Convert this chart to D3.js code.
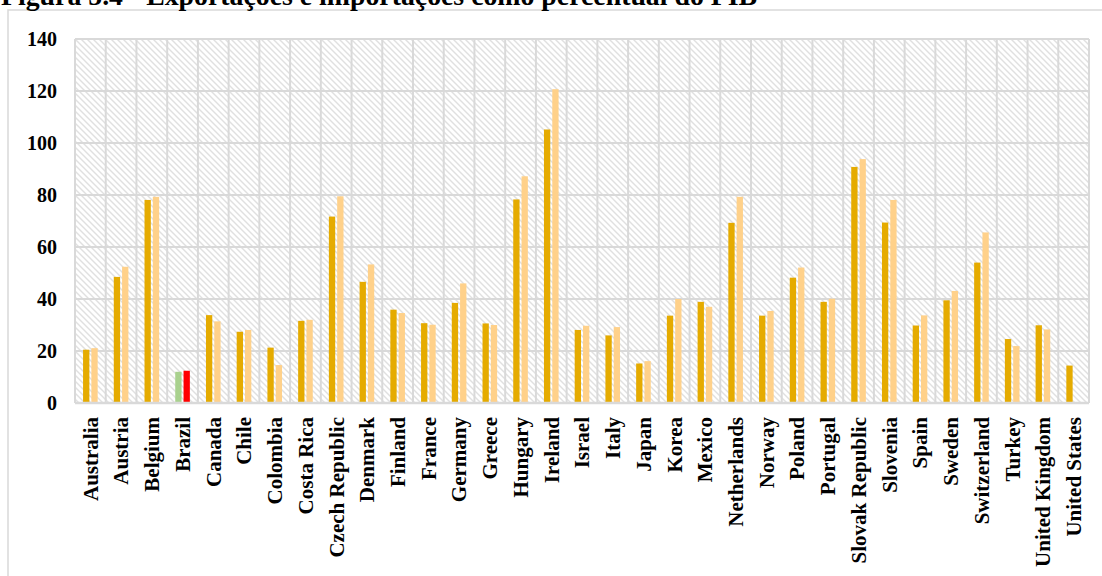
<!DOCTYPE html>
<html>
<head>
<meta charset="utf-8">
<script src="https://cdn.jsdelivr.net/npm/d3@7/dist/d3.min.js"></script>
<style>
  html, body { margin: 0; padding: 0; background: #fff; }
  svg { display: block; }
  text { font-family: "Liberation Serif", "Times New Roman", serif; font-weight: bold; fill: #000; }
</style>
</head>
<body>
<svg id="chart" width="1102" height="576"></svg>
<script>
// Exports and imports as a share of GDP (%), by country
const countries = ["Australia", "Austria", "Belgium", "Brazil", "Canada", "Chile", "Colombia",
  "Costa Rica", "Czech Republic", "Denmark", "Finland", "France", "Germany", "Greece",
  "Hungary", "Ireland", "Israel", "Italy", "Japan", "Korea", "Mexico", "Netherlands",
  "Norway", "Poland", "Portugal", "Slovak Republic", "Slovenia", "Spain", "Sweden",
  "Switzerland", "Turkey", "United Kingdom", "United States"];

const exportsPct = [20.5, 48.5, 78.1, 12.0, 33.8, 27.4, 21.3, 31.6, 71.7, 46.6, 35.9, 30.7,
  38.5, 30.6, 78.3, 105.2, 28.1, 26.0, 15.2, 33.6, 38.9, 69.3, 33.6, 48.2, 38.9, 90.8,
  69.4, 29.8, 39.5, 54.0, 24.6, 29.9, 14.4];

const importsPct = [21.1, 52.4, 79.3, 12.4, 31.4, 28.1, 14.6, 32.0, 79.5, 53.3, 34.6, 30.1,
  46.0, 30.0, 87.2, 120.7, 29.7, 29.2, 16.1, 40.0, 37.0, 79.3, 35.4, 52.1, 40.1, 93.8,
  78.1, 33.7, 43.1, 65.6, 21.9, 28.3, null];

const yTicks = [0, 20, 40, 60, 80, 100, 120, 140];
const seriesKeys = ["exports", "imports"];
const highlight = "Brazil";

const colors = { exports: "#E5AB00", imports: "#FFD18A" };
const highlightColors = { exports: "#A9D18E", imports: "#FF0000" };
const gridColor = "#D9D9D9";

const svg = d3.select("#chart");

// Outer chart frame
svg.append("rect")
  .attr("x", 8).attr("y", 10)
  .attr("width", 1200).attr("height", 700)
  .attr("fill", "#fff")
  .attr("stroke", gridColor).attr("stroke-width", 1.5);

// Title (runs off the top edge)
svg.append("text")
  .attr("x", 1).attr("y", 5)
  .style("font-size", "27.8px")
  .text("Figura 5.4 - Exportações e importações como percentual do PIB");

const plot = { left: 75, right: 1089, top: 39, bottom: 403 };

const x = d3.scaleBand().domain(countries).range([plot.left, plot.right]).padding(0);
const xs = d3.scaleBand().domain(seriesKeys).range([0, x.bandwidth()])
  .paddingInner(0.24).paddingOuter(0.97);
const y = d3.scaleLinear().domain([0, 140]).range([plot.bottom, plot.top]);

// Hatched plot background
const defs = svg.append("defs");
const pat = defs.append("pattern")
  .attr("id", "hatch").attr("patternUnits", "userSpaceOnUse")
  .attr("width", 6).attr("height", 6);
pat.append("rect").attr("width", 6).attr("height", 6).attr("fill", "#fff");
pat.append("path")
  .attr("d", "M-1,-1 L7,7 M-4,2 L2,8 M4,-2 L8,2")
  .attr("stroke", "#E0E0E0").attr("stroke-width", 1.4);

svg.append("rect")
  .attr("x", plot.left).attr("y", plot.top)
  .attr("width", plot.right - plot.left).attr("height", plot.bottom - plot.top)
  .attr("fill", "url(#hatch)");

// Horizontal gridlines
svg.append("g").selectAll("line").data(yTicks).join("line")
  .attr("x1", plot.left).attr("x2", plot.right)
  .attr("y1", d => y(d)).attr("y2", d => y(d))
  .attr("stroke", gridColor).attr("stroke-width", 2);

// Vertical gridlines at category boundaries
const bounds = countries.map(c => x(c)).concat([plot.right]);
svg.append("g").selectAll("line").data(bounds).join("line")
  .attr("x1", d => d).attr("x2", d => d)
  .attr("y1", plot.top).attr("y2", plot.bottom)
  .attr("stroke", gridColor).attr("stroke-width", 2);

// Bars
const rows = countries.map((c, i) => ({ country: c, exports: exportsPct[i], imports: importsPct[i] }));
const groups = svg.append("g").selectAll("g").data(rows).join("g")
  .attr("transform", d => `translate(${x(d.country)},0)`);
groups.selectAll("rect")
  .data(d => seriesKeys
    .filter(k => d[k] != null)
    .map(k => ({ key: k, value: d[k], country: d.country })))
  .join("rect")
  .attr("x", d => xs(d.key))
  .attr("width", xs.bandwidth())
  .attr("y", d => y(d.value))
  .attr("height", d => y(0) - y(d.value))
  .attr("fill", d => d.country === highlight ? highlightColors[d.key] : colors[d.key]);

// Baseline
svg.append("line")
  .attr("x1", plot.left).attr("x2", plot.right)
  .attr("y1", y(0)).attr("y2", y(0))
  .attr("stroke", gridColor).attr("stroke-width", 2.5);

// Y axis labels
svg.append("g").selectAll("text").data(yTicks).join("text")
  .attr("x", 57).attr("y", d => y(d))
  .attr("dy", "0.35em")
  .attr("text-anchor", "end")
  .style("font-size", "20px")
  .text(d => d);

// X axis labels (rotated)
svg.append("g").selectAll("text").data(countries).join("text")
  .attr("transform", d => `translate(${x(d) + x.bandwidth() / 2},417) rotate(-90)`)
  .attr("dy", "0.35em")
  .attr("text-anchor", "end")
  .style("font-size", "21px")
  .text(d => d);
</script>
</body>
</html>
